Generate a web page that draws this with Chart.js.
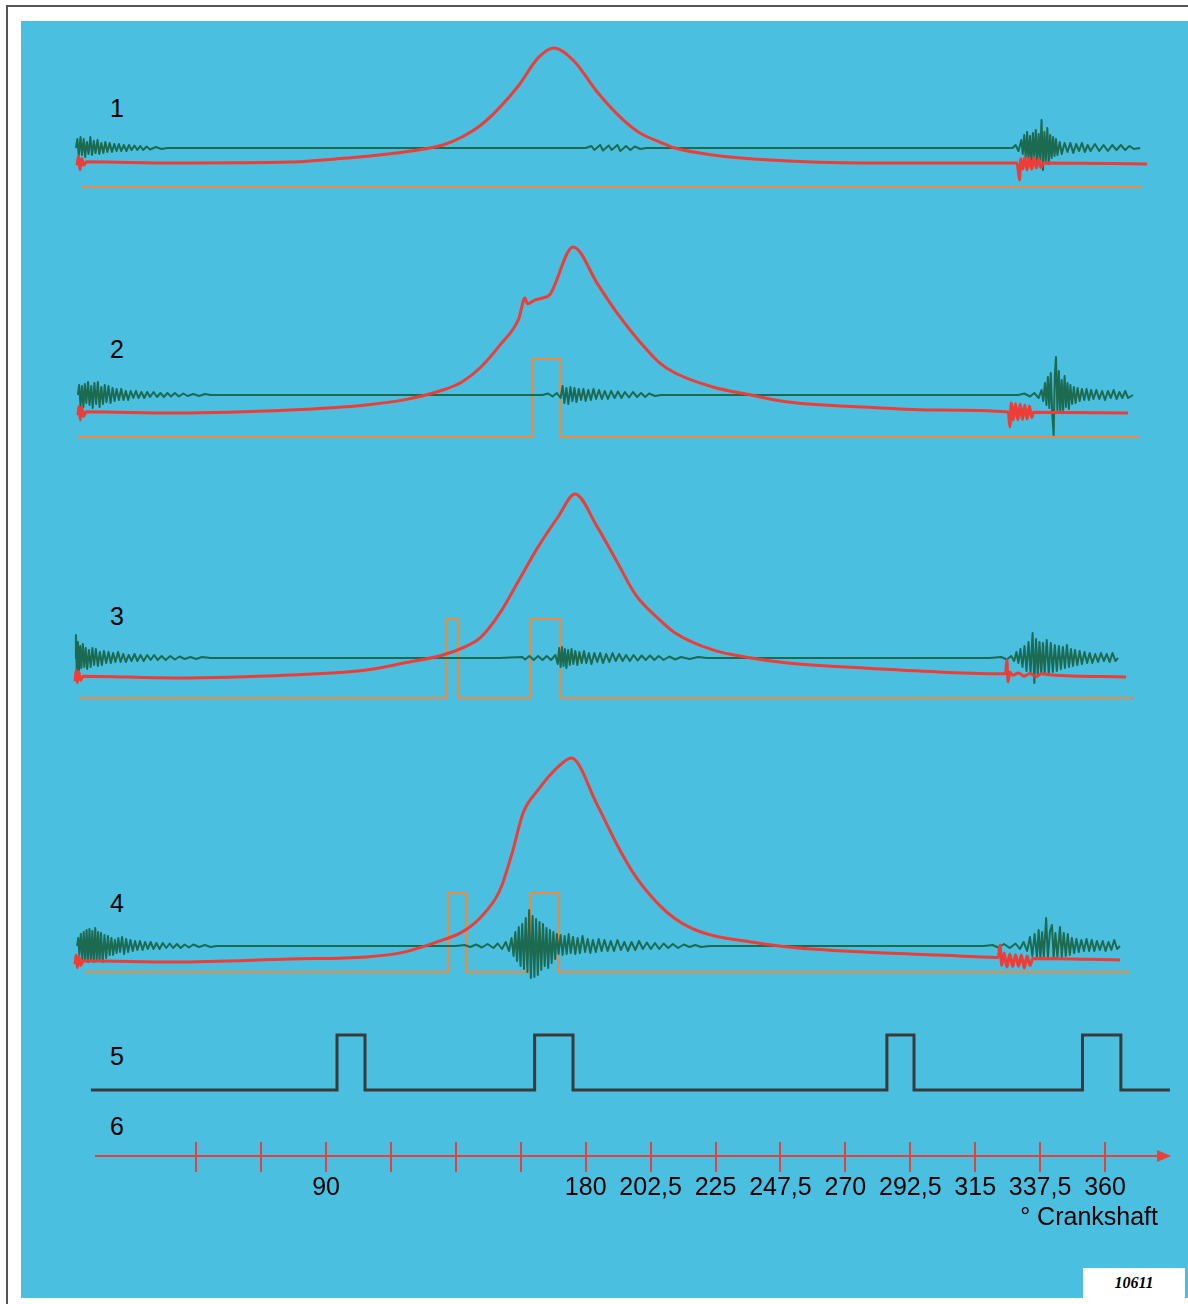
<!DOCTYPE html>
<html>
<head>
<meta charset="utf-8">
<script src="https://cdn.jsdelivr.net/npm/chart.js@4.4.1/dist/chart.umd.min.js"></script>
<style>
  body { margin:0; width:1188px; height:1304px; background:#fff; position:relative; overflow:hidden;
         font-family:"Liberation Sans", Arial, sans-serif; }
  #frame { position:absolute; left:6px; top:5px; width:1190px; height:1310px; border-top:2px solid #555; border-left:2px solid #555; }
  #panel { position:absolute; left:21px; top:21px; width:1167px; height:1277px; background:#4bbfe0; }
  canvas { position:absolute; left:0; }
  .row-label { position:absolute; left:110px; font-size:25px; line-height:30px; color:#000; }
  #code { position:absolute; left:1083px; top:1268px; width:102px; height:30px; background:#fff; color:#000;
          font:italic bold 16px "Liberation Serif", "Times New Roman", serif; line-height:30px; text-align:center; }
</style>
</head>
<body>
<div id="frame"></div>
<div id="panel"></div>
<div class="row-label" style="top:93px">1</div>
<div class="row-label" style="top:334px">2</div>
<div class="row-label" style="top:601px">3</div>
<div class="row-label" style="top:888px">4</div>
<div class="row-label" style="top:1041px">5</div>
<div class="row-label" style="top:1111px">6</div>
<canvas id="row1"></canvas>
<canvas id="row2"></canvas>
<canvas id="row3"></canvas>
<canvas id="row4"></canvas>
<canvas id="row5"></canvas>
<canvas id="axis6"></canvas>
<div id="code">10611</div>
<script>
// ---- data: [crank angle in degrees, value] ----

// cylinder pressure (bar above start level), traces 1-4
const pressure1 = [[3.7,-1],[4.2,3],[4.7,-3],[5.3,2],[6,-1],[7,0.5],[37.6,0],[77.5,0.4],[97.3,2.2],[117,4.8],[130.5,7.8],[137.1,11.3],[143.7,16.5],[150.3,24.3],[156.9,33.9],[163.5,45.7],[169,50],[175.6,44.8],[184.3,30.4],[191.6,20.4],[198.8,13],[205.7,9.1],[211,6.5],[224.1,3.5],[243.9,1.3],[276.5,0],[329.5,0],[330.4,-7.4],[330.8,1.8],[331.5,-2.6],[332.2,2.6],[333,-3],[333.8,2.2],[334.6,-2.6],[335.4,2.4],[336.2,-2.2],[337,1.8],[337.8,-2],[338.6,0],[374.6,-0.4]];
const pressure2 = [[4,-1],[4.4,3],[4.8,-3],[5.3,2.5],[5.9,-1.5],[6.8,0.5],[37.6,0],[77.5,1.3],[103.9,3.5],[117,5.7],[130.5,10],[137.1,13.5],[143.7,20],[150.3,29.6],[156.9,41.3],[158.9,50],[159.8,47.5],[162.4,49.1],[165,50],[167.6,51.5],[175.6,72.2],[184.3,55.7],[191.6,42.2],[198.8,30.9],[205.7,21.7],[211,17.4],[224.1,11.3],[237.3,7.8],[250.1,4.8],[276.5,2.6],[302.5,1.3],[326.5,0.4],[327,-6],[327.5,4.3],[328.2,-3],[329,4],[329.8,-3],[330.6,3.8],[331.4,-2.8],[332.2,3.5],[333,-2.6],[333.8,3],[334.6,-2],[335.2,0.3],[368,0]];
const pressure3 = [[3,-1.5],[3.4,3.5],[3.8,-2],[4.3,2.5],[4.9,-1],[5.8,0.8],[37.6,0],[77.5,1.3],[103.9,3.5],[117,6.5],[130.5,10],[137.1,13],[143.7,17.8],[150.3,28.3],[156.9,42.6],[163.5,57],[170.4,70],[176.3,80],[184,65.7],[190.9,50.4],[197.4,36],[205.7,25.2],[211,19.6],[224.1,12.2],[237.3,8.7],[250.1,6.5],[276.5,4.3],[302.5,2.6],[325.5,1.8],[326,7.8],[326.4,-1.7],[327,2.5],[328,1.2],[330,2.2],[332,0.8],[334,2],[336,0.6],[338,1.8],[341.6,1.3],[367.3,0.4]];
const pressure4 = [[3,-1],[3.4,3],[3.8,-2.5],[4.3,2.5],[4.9,-1.5],[5.8,0.5],[37.6,0],[77.5,1.3],[103.9,2.2],[117,4.3],[130.5,9.6],[137.1,13],[143.7,19.6],[150.3,31.3],[154.5,47.4],[158.3,64.8],[163.5,74.8],[170.4,84.8],[175,88.7],[184,68.3],[190.9,50.9],[197.4,37],[205.7,24.5],[211,18.8],[217,14.5],[224.1,11.5],[237.3,8.7],[250.1,6.5],[276.5,4.3],[302.5,3],[323,2],[323.6,7.4],[324.2,-1.5],[325,3.9],[326,-2.2],[327,3.5],[328,-2],[329,3.2],[330,-1.8],[331,3],[332,-2.6],[333,2.6],[334,-1.5],[335,1.5],[365.2,0.9]];

// knock sensor signal (V), traces 1-4
const knock1 = [[3.3,0],[3.8,0.9],[4.3,-0.8],[4.9,1.1],[5.4,-0.7],[6,0.9],[6.5,-0.9],[7.1,0.6],[7.7,-0.6],[8.3,1.1],[8.9,-0.7],[9.5,0.7],[10.1,-0.5],[10.8,0.8],[11.4,-0.6],[12.1,0.5],[12.8,-0.5],[13.5,0.6],[14.2,-0.4],[15,0.5],[15.8,-0.4],[16.6,0.4],[17.4,-0.3],[18.2,0.4],[19,-0.3],[19.9,0.3],[20.8,-0.3],[21.7,0.3],[22.6,-0.2],[23.6,0.25],[24.6,-0.2],[25.6,0.2],[26.6,-0.2],[27.8,0.15],[29,-0.15],[31,0.1],[33,-0.1],[35,0],
  [180,0],[182,0.2],[183,-0.2],[185,0.3],[186,-0.25],[188,0.25],[189,-0.2],[191,0.3],[192,-0.3],[194,0.2],[195.5,-0.2],[197,0.15],[199,-0.1],[201,0],
  [328,0],[329,0.3],[330,-0.3],[331,0.8],[331.5,-0.6],[332,1.3],[332.5,-1],[333,1.6],[333.5,-1.2],[334,1.2],[334.5,-1.4],[335,1.5],[335.5,-1],[336,1.8],[336.5,-1.5],[337,1.4],[337.5,-1.2],[338,2.8],[338.5,-2.2],[339,1.6],[339.5,-1.3],[340,2],[340.5,-1.6],[341,1.3],[341.5,-1],[342,1.1],[342.5,-0.8],[343,0.9],[343.5,-0.7],[344.3,0.6],[345,-0.6],[346,0.5],[347,-0.4],[348,0.5],[349,-0.5],[350,0.4],[351,-0.3],[352,0.5],[353,-0.4],[354,0.3],[355,-0.3],[356.5,0.4],[358,-0.3],[359.5,0.3],[361,-0.3],[362.5,0.3],[364,-0.2],[365.5,0.3],[367,-0.2],[368.5,0.2],[370,-0.1],[372.2,0]];
const knock2 = [[4,0],[4.4,1],[4.9,-1.1],[5.4,0.9],[5.9,-1.2],[6.4,1.1],[6.9,-0.8],[7.5,1.3],[8,-1],[8.6,0.9],[9.1,-1.3],[9.7,1.2],[10.3,-0.9],[10.9,1.3],[11.5,-1.2],[12.1,0.8],[12.7,-0.9],[13.3,1],[13.9,-0.7],[14.6,0.9],[15.3,-0.8],[16,0.7],[16.7,-0.6],[17.4,0.6],[18.2,-0.5],[19,0.6],[19.8,-0.5],[20.6,0.4],[21.4,-0.5],[22.3,0.4],[23.2,-0.3],[24.1,0.4],[25,-0.3],[26,0.3],[27,-0.3],[28,0.3],[29,-0.2],[30.2,0.3],[31.4,-0.2],[32.6,0.2],[33.8,-0.2],[35,0.2],[36.3,-0.15],[37.6,0.2],[39,-0.15],[40.5,0.15],[42,-0.1],[44,0.1],[46,-0.1],[48,0.1],[50,0],
  [165,0],[167,0.15],[168.5,-0.15],[170,0.2],[171.3,-0.3],[172,0.9],[172.6,-0.8],[173.3,0.7],[174,-0.9],[174.7,0.8],[175.4,-0.6],[176.1,0.7],[176.8,-0.7],[177.6,0.6],[178.4,-0.5],[179.2,0.6],[180,-0.6],[180.9,0.5],[181.8,-0.5],[182.7,0.6],[183.6,-0.4],[184.6,0.5],[185.6,-0.4],[186.6,0.4],[187.7,-0.4],[188.8,0.4],[190,-0.3],[191.2,0.35],[192.4,-0.3],[193.6,0.3],[195,-0.25],[196.4,0.3],[197.8,-0.2],[199.2,0.2],[200.6,-0.2],[202,0.15],[204,-0.1],[206,0],
  [330,0],[332,0.15],[334,-0.15],[335.5,0.2],[337,-0.3],[338,0.5],[338.6,-0.6],[339.2,1.2],[339.7,-1],[340.2,1.8],[340.7,-1.3],[341.2,2.2],[341.7,-1.8],[342.2,-4],[342.6,1.9],[343,3.8],[343.5,-1.5],[344,2.4],[344.5,-1.8],[345,1.5],[345.5,-1.5],[346,1.9],[346.5,-1.2],[347,1.2],[347.5,-1.4],[348,1],[348.6,-0.9],[349.2,0.8],[349.8,-0.8],[350.5,0.7],[351.2,-0.6],[352,0.6],[352.8,-0.5],[353.6,0.6],[354.4,-0.5],[355.2,0.5],[356,-0.4],[357,0.5],[358,-0.4],[359,0.4],[360,-0.5],[361,0.4],[362,-0.3],[363,0.5],[364,-0.4],[365,0.3],[366,-0.3],[367,0.4],[368,-0.3],[369.7,0]];
const knock3 = [[3,0],[3.3,2.3],[3.6,-1.5],[4,1.6],[4.4,-1.2],[4.8,1.2],[5.2,-1],[5.7,1.4],[6.2,-0.9],[6.7,1],[7.2,-1.1],[7.8,0.8],[8.4,-0.9],[9,1],[9.6,-0.7],[10.2,0.9],[10.9,-0.8],[11.6,0.6],[12.3,-0.7],[13,0.7],[13.8,-0.5],[14.6,0.6],[15.4,-0.5],[16.2,0.5],[17,-0.4],[17.9,0.6],[18.8,-0.4],[19.7,0.4],[20.6,-0.4],[21.6,0.3],[22.6,-0.3],[23.6,0.4],[24.6,-0.3],[25.7,0.3],[26.8,-0.3],[28,0.3],[29.2,-0.2],[30.4,0.3],[31.6,-0.2],[33,0.2],[34.4,-0.2],[36,0.2],[37.6,-0.15],[39.2,0.15],[41,-0.1],[43,0.1],[45,-0.1],[47,0.1],[50,0],
  [150,0],[158,0.1],[159,-0.15],[160.5,0.2],[162,-0.2],[163.5,0.2],[165,-0.2],[166.5,0.2],[168,-0.2],[169.5,0.3],[170.3,-0.6],[170.8,1],[171.3,-0.9],[171.8,1.1],[172.3,-0.8],[172.8,0.9],[173.3,-1],[173.9,0.8],[174.5,-0.7],[175.1,0.9],[175.7,-0.6],[176.4,0.7],[177.1,-0.7],[177.8,0.6],[178.6,-0.5],[179.4,0.7],[180.2,-0.5],[181.1,0.5],[182,-0.6],[183,0.5],[184,-0.4],[185,0.5],[186,-0.5],[187.1,0.4],[188.2,-0.4],[189.3,0.5],[190.4,-0.3],[191.6,0.4],[192.8,-0.3],[194,0.3],[195.3,-0.3],[196.6,0.3],[198,-0.25],[199.4,0.25],[200.8,-0.2],[202.3,0.25],[203.8,-0.2],[205.3,0.2],[207,-0.2],[209,0.15],[211,-0.15],[213,0.1],[216,-0.1],[219,0.1],[222,0],
  [320,0],[324,0.1],[326,-0.15],[327.5,0.2],[328.5,-0.3],[329.3,0.6],[330,-0.5],[330.7,0.9],[331.4,-0.9],[332.1,1.2],[332.8,-1.3],[333.5,1.6],[334.2,-1.5],[334.9,2.5],[335.5,-2.5],[336.1,1.9],[336.7,-1.7],[337.3,1.6],[337.9,-1.6],[338.5,1.5],[339.1,-1.5],[339.8,1.8],[340.5,-1.6],[341.2,1.5],[341.9,-1.4],[342.6,1.3],[343.3,-1.3],[344,1.2],[344.7,-1.1],[345.4,1.1],[346.1,-1],[346.8,1.3],[347.5,-0.9],[348.2,0.9],[348.9,-0.8],[349.6,0.8],[350.4,-0.7],[351.2,0.7],[352,-0.6],[352.9,0.6],[353.8,-0.5],[354.7,0.5],[355.6,-0.5],[356.6,0.4],[357.6,-0.4],[358.6,0.5],[359.6,-0.3],[360.6,0.4],[361.6,-0.4],[362.6,0.5],[363.6,-0.3],[364.5,0]];
const knock4 = [[3.7,0],[4.1,0.8],[4.5,-0.9],[5,1.2],[5.5,-1.3],[6,1.4],[6.5,-1.5],[7,1.6],[7.5,-1.6],[8,1.7],[8.5,-1.5],[9,1.5],[9.5,-1.6],[10,1.8],[10.5,-1.4],[11,1.4],[11.5,-1.5],[12,1.3],[12.6,-1.6],[13.2,1.1],[13.8,-1.2],[14.4,1],[15,-0.9],[15.6,0.8],[16.2,-0.9],[16.8,0.6],[17.4,-0.7],[18,0.8],[18.6,-0.6],[19.3,0.9],[20,-0.8],[20.7,0.7],[21.4,-0.6],[22.2,0.6],[23,-0.5],[23.8,0.5],[24.6,-0.4],[25.5,0.5],[26.4,-0.4],[27.3,0.4],[28.2,-0.3],[29.2,0.4],[30.2,-0.3],[31.2,0.3],[32.3,-0.3],[33.4,0.3],[34.6,-0.2],[35.8,0.25],[37,-0.2],[38.3,0.2],[39.6,-0.2],[41,0.15],[42.5,-0.15],[44,0.15],[46,-0.1],[48,0.1],[50,-0.1],[52,0],
  [135,0],[138,0.1],[140,-0.1],[142,0.15],[144,-0.15],[146,0.2],[148,-0.2],[149.5,0.25],[151,-0.3],[152.3,0.4],[153.4,-0.5],[154.3,0.8],[155,-1],[155.6,1.4],[156.2,-1.5],[156.8,1.9],[157.4,-2],[158,2.2],[158.6,-2.3],[159.2,2.8],[159.8,-2.6],[160.4,3.6],[161,-3.2],[161.6,3],[162.2,-3.1],[162.8,2.7],[163.4,-2.9],[164,2.4],[164.6,-2.4],[165.2,2.2],[165.8,-2],[166.4,1.8],[167,-2.2],[167.6,1.6],[168.2,-1.7],[168.8,1.4],[169.4,-1.3],[170,1.2],[170.6,-0.8],[171.3,1.1],[172,-0.9],[172.7,1],[173.4,-0.8],[174.1,1.2],[174.8,-0.7],[175.6,0.9],[176.4,-0.8],[177.2,0.8],[178,-0.7],[178.9,1],[179.8,-0.6],[180.7,0.7],[181.6,-0.7],[182.5,0.6],[183.5,-0.6],[184.5,0.7],[185.5,-0.5],[186.5,0.6],[187.6,-0.5],[188.7,0.5],[189.8,-0.5],[191,0.6],[192.2,-0.4],[193.4,0.4],[194.6,-0.5],[195.9,0.4],[197.2,-0.4],[198.5,0.5],[199.8,-0.3],[201.2,0.35],[202.6,-0.3],[204,0.3],[205.5,-0.3],[207,0.25],[208.6,-0.2],[210.2,0.2],[212,-0.2],[214,0.15],[216,-0.1],[218,0.1],[220,-0.1],[223,0],
  [318,0],[321,0.1],[323,-0.15],[325,0.2],[327,-0.2],[329,0.25],[330.5,-0.3],[331.8,0.4],[333,-0.5],[334,0.9],[334.8,-1],[335.6,1.2],[336.4,-1.1],[337,1.6],[337.6,-1.2],[338.2,1.4],[338.8,-1.1],[339.6,2.8],[340.2,-1.2],[340.9,1.4],[341.6,2.1],[342.2,-1.2],[342.8,1.3],[343.5,-1.1],[344.4,1.9],[345,-1.1],[345.7,1.3],[346.4,-1],[347.1,1.2],[347.8,-0.9],[348.5,0.8],[349.3,-0.7],[350.1,0.7],[350.9,-0.6],[351.8,0.6],[352.7,-0.5],[353.6,0.7],[354.5,-0.5],[355.4,0.6],[356.3,-0.5],[357.2,0.5],[358.2,-0.4],[359.2,0.5],[360.2,-0.5],[361.2,0.4],[362.2,-0.4],[363.2,0.6],[364.2,-0.3],[365.2,0]];

// injection / ignition control signal (0 = off, 1 = on), traces 1-4
const control1 = [[5.1,0],[372.5,0]];
const control2 = [[4,0],[161.4,0],[161.4,1],[171.4,1],[171.4,0],[371.8,0]];
const control3 = [[4.7,0],[131.6,0],[131.6,1],[135.7,1],[135.7,0],[161,0],[161,1],[171.4,1],[171.4,0],[369.7,0]];
const control4 = [[6.4,0],[132.3,0],[132.3,1],[138.5,1],[138.5,0],[160.7,0],[160.7,1],[170.7,1],[170.7,0],[368.7,0]];

// trace 5: reference pulse train
const pulse5 = [[8.5,0],[93.8,0],[93.8,1],[103.5,1],[103.5,0],[162.3,0],[162.3,1],[175.6,1],[175.6,0],[284.4,0],[284.4,1],[293.8,1],[293.8,0],[352.2,0],[352.2,1],[365.5,1],[365.5,0],[382.5,0]];

// trace 6: crank angle scale
const axisTicks = [45, 67.5, 90, 112.5, 135, 157.5, 180, 202.5, 225, 247.5, 270, 292.5, 315, 337.5, 360];
const axisLabels = [90, 180, 202.5, 225, 247.5, 270, 292.5, 315, 337.5, 360];

// ---- layout of the sheet ----
const PAGE_W = 1188;
const X0 = 66.4, PX_PER_DEG = 2.885;       // 0 deg position and scale
const PX_PER_BAR = 2.3, PX_PER_VOLT = 10;
const degAt = px => (px - X0) / PX_PER_DEG;

const RED = '#ee3d36', AXIS_RED = '#e8403a', GREEN = '#1c6a50', ORANGE = '#f2883a', DARK = '#3a3a3a';
const FONT = { family: '"Liberation Sans", Arial, sans-serif', size: 25 };

const rows = [
  { id: 'row1', top: 25,  height: 180, pZero: 163, kZero: 148, sZero: 187, sHigh: 109, p: pressure1, k: knock1, s: control1 },
  { id: 'row2', top: 230, height: 220, pZero: 413, kZero: 395, sZero: 437, sHigh: 359, p: pressure2, k: knock2, s: control2 },
  { id: 'row3', top: 480, height: 235, pZero: 678, kZero: 658, sZero: 698, sHigh: 619, p: pressure3, k: knock3, s: control3 },
  { id: 'row4', top: 740, height: 250, pZero: 962, kZero: 946, sZero: 972, sHigh: 893, p: pressure4, k: knock4, s: control4 }
];

function range(zeroPx, pxPerUnit, top, height) {
  return { display: false, min: (zeroPx - (top + height)) / pxPerUnit, max: (zeroPx - top) / pxPerUnit };
}
const pts = arr => arr.map(([x, y]) => ({ x, y }));

const baseOptions = {
  responsive: false,
  animation: false,
  events: [],
  plugins: { legend: { display: false }, tooltip: { enabled: false } },
  elements: { point: { radius: 0 }, line: { tension: 0, borderJoinStyle: 'round' } }
};

function setupCanvas(id, top, height) {
  const cv = document.getElementById(id);
  cv.width = PAGE_W;
  cv.height = height;
  cv.style.top = top + 'px';
  return cv;
}

rows.forEach(r => {
  const cv = setupCanvas(r.id, r.top, r.height);
  new Chart(cv, {
    type: 'line',
    data: {
      datasets: [
        { data: pts(r.p), yAxisID: 'p', borderColor: RED, borderWidth: 3, cubicInterpolationMode: 'monotone' },
        { data: pts(r.k), yAxisID: 'k', borderColor: GREEN, borderWidth: 2 },
        { data: pts(r.s), yAxisID: 's', borderColor: ORANGE, borderWidth: 2 }
      ]
    },
    options: {
      ...baseOptions,
      scales: {
        x: { type: 'linear', display: false, min: degAt(0), max: degAt(PAGE_W) },
        p: range(r.pZero, PX_PER_BAR, r.top, r.height),
        k: range(r.kZero, PX_PER_VOLT, r.top, r.height),
        s: range(r.sZero, r.sZero - r.sHigh, r.top, r.height)
      }
    }
  });
});

// trace 5
const cv5 = setupCanvas('row5', 1020, 85);
new Chart(cv5, {
  type: 'line',
  data: { datasets: [{ data: pts(pulse5), yAxisID: 's', borderColor: DARK, borderWidth: 3, borderJoinStyle: 'miter' }] },
  options: {
    ...baseOptions,
    scales: {
      x: { type: 'linear', display: false, min: degAt(0), max: degAt(PAGE_W) },
      s: range(1090, 55, 1020, 85)
    }
  }
});

// trace 6: degree scale with arrow
const arrowHead = {
  id: 'arrowHead',
  afterDraw(chart) {
    const { ctx, chartArea: a } = chart;
    ctx.save();
    ctx.fillStyle = AXIS_RED;
    ctx.beginPath();
    ctx.moveTo(a.right - 1, a.bottom - 6);
    ctx.lineTo(a.right + 13, a.bottom);
    ctx.lineTo(a.right - 1, a.bottom + 6);
    ctx.closePath();
    ctx.fill();
    ctx.restore();
  }
};

const AXIS_LEFT = 96, AXIS_RIGHT = 1158, AXIS_TOP = 1130;
const cv6 = setupCanvas('axis6', AXIS_TOP, 106);
new Chart(cv6, {
  type: 'scatter',
  data: { datasets: [] },
  plugins: [arrowHead],
  options: {
    ...baseOptions,
    layout: { padding: { left: AXIS_LEFT, right: PAGE_W - AXIS_RIGHT, top: 12, bottom: 0 } },
    scales: {
      x: {
        type: 'linear',
        position: 'bottom',
        min: degAt(AXIS_LEFT),
        max: degAt(AXIS_RIGHT),
        afterBuildTicks: s => { s.ticks = axisTicks.map(v => ({ value: v })); },
        afterFit: s => { s.height = 80; },
        ticks: {
          autoSkip: false,
          maxRotation: 0,
          padding: 1,
          color: '#000',
          font: FONT,
          callback: v => axisLabels.includes(v) ? String(v).replace('.', ',') : ''
        },
        grid: { color: AXIS_RED, lineWidth: 2, tickLength: 16, drawOnChartArea: true },
        border: { color: AXIS_RED, width: 2 },
        title: { display: true, text: '° Crankshaft', align: 'end', color: '#000', font: FONT, padding: { top: 0, bottom: 3 } }
      },
      y: { display: false, min: 0, max: 1 }
    }
  }
});
</script>
</body>
</html>
